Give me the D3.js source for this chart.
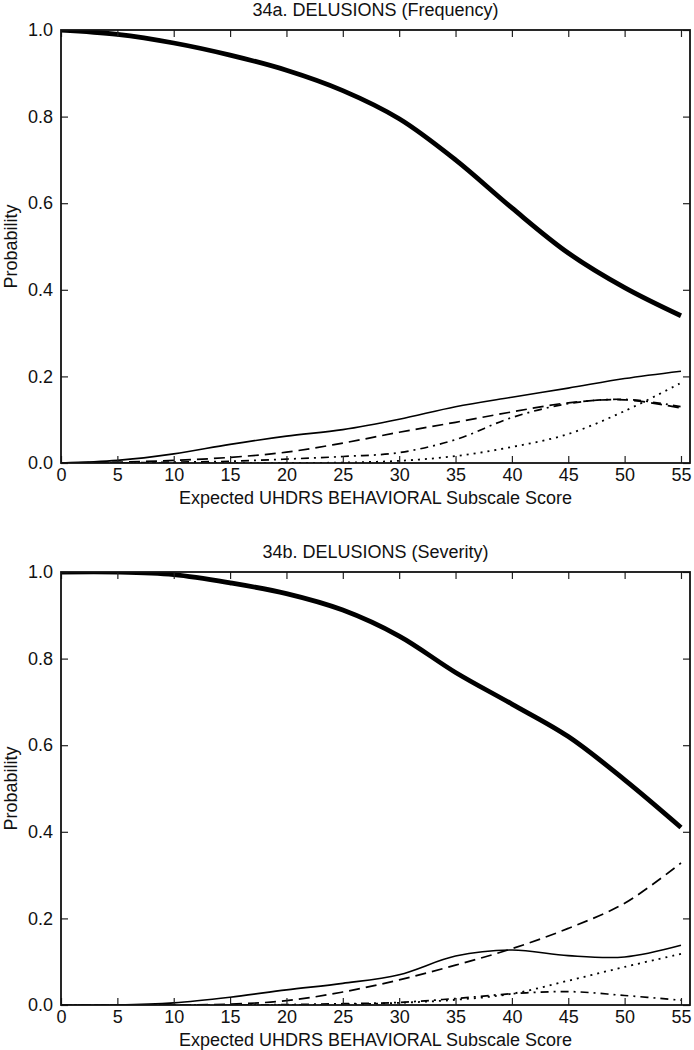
<!DOCTYPE html>
<html>
<head>
<meta charset="utf-8">
<script src="https://cdn.jsdelivr.net/npm/d3@7"></script>
<style>
  body { margin: 0; background: #fff; }
  text { font-family: "Liberation Sans", Arial, sans-serif; fill: #111; }
</style>
</head>
<body>
<div id="myChart"></div>
<script>
let scores = [0, 5, 10, 15, 20, 25, 30, 35, 40, 45, 50, 55];
let xTicks = [0, 5, 10, 15, 20, 25, 30, 35, 40, 45, 50, 55];
let yTicks = [0, 0.2, 0.4, 0.6, 0.8, 1.0];

let panelTitles = ["34a. DELUSIONS (Frequency)", "34b. DELUSIONS (Severity)"];
let xLabel = "Expected UHDRS BEHAVIORAL Subscale Score";
let yLabel = "Probability";

// 34a - frequency categories
let freqCat0 = [1.0, 0.99, 0.97, 0.942, 0.907, 0.86, 0.795, 0.7, 0.589, 0.485, 0.405, 0.34];
let freqCat1 = [0, 0.006, 0.021, 0.043, 0.062, 0.077, 0.101, 0.13, 0.152, 0.173, 0.195, 0.212];
let freqCat2 = [0, 0.002, 0.006, 0.013, 0.025, 0.046, 0.071, 0.094, 0.118, 0.139, 0.146, 0.127];
let freqCat3 = [0, 0, 0.002, 0.004, 0.009, 0.015, 0.024, 0.054, 0.105, 0.137, 0.147, 0.13];
let freqCat4 = [0, 0, 0, 0, 0, 0.001, 0.005, 0.016, 0.037, 0.067, 0.12, 0.185];

// 34b - severity categories
let sevCat0 = [1.0, 1.0, 0.994, 0.975, 0.95, 0.912, 0.852, 0.768, 0.695, 0.62, 0.52, 0.41];
let sevCat1 = [0, 0, 0.005, 0.018, 0.035, 0.05, 0.07, 0.113, 0.127, 0.114, 0.111, 0.138];
let sevCat2 = [0, 0, 0, 0.002, 0.01, 0.03, 0.058, 0.092, 0.13, 0.177, 0.235, 0.328];
let sevCat3 = [0, 0, 0, 0, 0.001, 0.003, 0.006, 0.015, 0.026, 0.031, 0.022, 0.011];
let sevCat4 = [0, 0, 0, 0, 0, 0.001, 0.005, 0.012, 0.026, 0.056, 0.088, 0.118];

// line styles, one per category position
let lineStyles = [
  { width: 4.8, dash: null },
  { width: 1.6, dash: null },
  { width: 1.7, dash: "11,6" },
  { width: 1.7, dash: "8,5,2,5" },
  { width: 1.8, dash: "2,5" },
];

let panels = [
  { title: panelTitles[0], top: 30, series: [freqCat0, freqCat1, freqCat2, freqCat3, freqCat4] },
  { title: panelTitles[1], top: 572, series: [sevCat0, sevCat1, sevCat2, sevCat3, sevCat4] },
];

let margin = { left: 61, right: 4 },
  width = 694,
  height = 1050,
  plotHeight = 433;

let svg = d3
  .select("#myChart")
  .append("svg")
  .attr("width", width)
  .attr("height", height);

let x = d3
  .scaleLinear()
  .domain([0, 55.8])
  .range([margin.left, width - margin.right]);

let fontSize = "18px";

panels.forEach((p, pi) => {
  let bottom = p.top + plotHeight;
  let y = d3.scaleLinear().domain([0, 1]).range([bottom, p.top]);

  let g = svg.append("g").attr("class", "panel");

  // clip so smoothed curves stay inside the frame
  g.append("clipPath")
    .attr("id", "clip" + pi)
    .append("rect")
    .attr("x", x.range()[0])
    .attr("y", p.top)
    .attr("width", x.range()[1] - x.range()[0])
    .attr("height", plotHeight);

  let line = d3
    .line()
    .x((d) => x(d.x))
    .y((d) => y(d.y))
    .curve(d3.curveCatmullRom.alpha(0.5));

  g.append("g")
    .attr("clip-path", `url(#clip${pi})`)
    .selectAll(".line")
    .data(p.series)
    .enter()
    .append("path")
    .attr("class", "line")
    .attr("d", (vals) => line(scores.map((s, i) => ({ x: s, y: vals[i] }))))
    .attr("fill", "none")
    .attr("stroke", "#000")
    .attr("stroke-width", (d, i) => lineStyles[i].width)
    .attr("stroke-dasharray", (d, i) => lineStyles[i].dash)
    .attr("stroke-linejoin", "round");

  // bottom axis with labels, ticks pointing inward
  let xAxis = g
    .append("g")
    .attr("transform", `translate(0,${bottom})`)
    .call(d3.axisBottom(x).tickValues(xTicks).tickSizeInner(-7).tickSizeOuter(0).tickPadding(5));
  xAxis.selectAll(".tick text").style("font-size", fontSize).attr("fill", "#111");

  // top axis, ticks only
  g.append("g")
    .attr("transform", `translate(0,${p.top})`)
    .call(d3.axisTop(x).tickValues(xTicks).tickSizeInner(-7).tickSizeOuter(0).tickFormat(""));

  // left axis with labels
  let yAxis = g
    .append("g")
    .attr("transform", `translate(${x.range()[0]},0)`)
    .call(
      d3.axisLeft(y).tickValues(yTicks).tickSizeInner(-7).tickSizeOuter(0).tickPadding(8).tickFormat(d3.format(".1f"))
    );
  yAxis.selectAll(".tick text").style("font-size", fontSize).attr("fill", "#111");

  // right axis, ticks only
  g.append("g")
    .attr("transform", `translate(${x.range()[1]},0)`)
    .call(d3.axisRight(y).tickValues(yTicks).tickSizeInner(-7).tickSizeOuter(0).tickFormat(""));

  g.selectAll(".domain").attr("stroke", "none");
  g.selectAll(".tick line").attr("stroke", "#222").attr("stroke-width", 1.2);

  // frame
  g.append("rect")
    .attr("x", x.range()[0])
    .attr("y", p.top)
    .attr("width", x.range()[1] - x.range()[0])
    .attr("height", plotHeight)
    .attr("fill", "none")
    .attr("stroke", "#111")
    .attr("stroke-width", 1.8);

  // Title
  g.append("text")
    .attr("x", (x.range()[0] + x.range()[1]) / 2)
    .attr("y", p.top - 14)
    .style("text-anchor", "middle")
    .style("font-size", fontSize)
    .text(p.title);

  // X-axis label
  g.append("text")
    .attr("x", (x.range()[0] + x.range()[1]) / 2)
    .attr("y", bottom + 41)
    .style("text-anchor", "middle")
    .style("font-size", fontSize)
    .text(xLabel);

  // Y-axis label
  g.append("text")
    .attr("transform", "rotate(-90)")
    .attr("x", -(p.top + bottom) / 2)
    .attr("y", 17)
    .style("text-anchor", "middle")
    .style("font-size", fontSize)
    .text(yLabel);
});
</script>
</body>
</html>
